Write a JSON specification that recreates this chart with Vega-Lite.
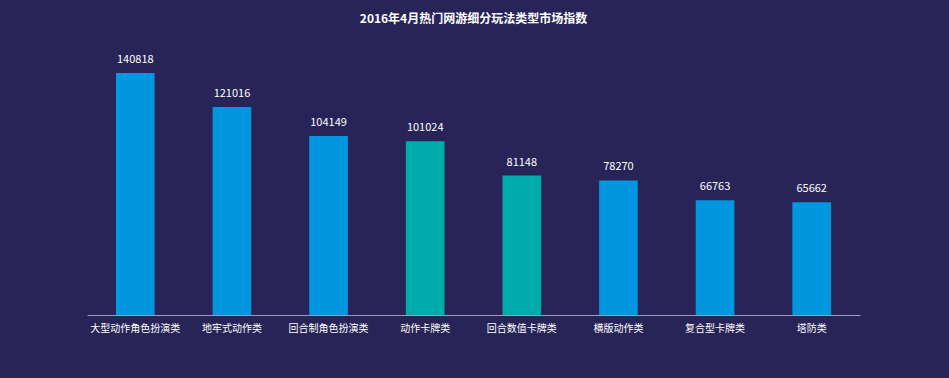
{
  "$schema": "https://vega.github.io/schema/vega-lite/v6.json",
  "autosize": {"type": "none"},
  "width": 773,
  "height": 275,
  "padding": {"left": 87, "top": 40, "right": 89, "bottom": 63},
  "background": "#282457",
  "title": {"text": "2016年4月热门网游细分玩法类型市场指数", "color": "#ffffff", "font": "Noto Sans CJK SC", "fontSize": 12, "fontWeight": "bold", "anchor": "middle", "offset": 14},
  "config": {"view": {"stroke": null}},
  "data": {"values": [
    {"type": "大型动作角色扮演类", "value": 140818, "g": "a"},
    {"type": "地牢式动作类", "value": 121016, "g": "a"},
    {"type": "回合制角色扮演类", "value": 104149, "g": "a"},
    {"type": "动作卡牌类", "value": 101024, "g": "b"},
    {"type": "回合数值卡牌类", "value": 81148, "g": "b"},
    {"type": "横版动作类", "value": 78270, "g": "a"},
    {"type": "复合型卡牌类", "value": 66763, "g": "a"},
    {"type": "塔防类", "value": 65662, "g": "a"}
  ]},
  "encoding": {
    "x": {"field": "type", "type": "nominal", "sort": null,
      "scale": {"paddingInner": 0.6, "paddingOuter": 0.3},
      "axis": {"title": null, "labelAngle": 0, "labelColor": "#ffffff", "labelFont": "Noto Sans CJK SC", "labelFontSize": 10, "labelPadding": 8, "ticks": false, "domainColor": "#9c9abb", "domainWidth": 1}},
    "y": {"field": "value", "type": "quantitative", "scale": {"domain": [0, 160000]}, "axis": null}
  },
  "layer": [
    {"mark": {"type": "bar"},
     "encoding": {"color": {"field": "g", "type": "nominal", "scale": {"domain": ["a", "b"], "range": ["#0096e0", "#00abab"]}, "legend": null}}},
    {"mark": {"type": "text", "dy": -13, "color": "#ffffff", "font": "Noto Sans CJK SC", "fontSize": 11},
     "encoding": {"text": {"field": "value", "type": "quantitative", "format": "d"}}}
  ]
}
